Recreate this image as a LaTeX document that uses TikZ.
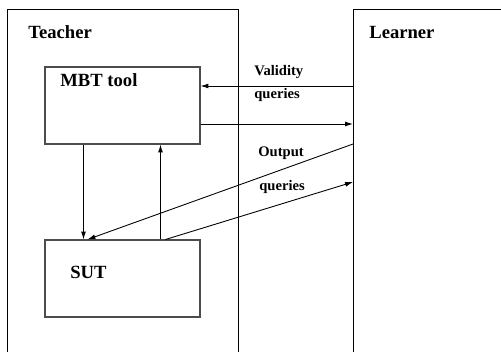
\documentclass[tikz,border=0pt]{standalone}
\usepackage{fontspec}
\setmainfont{Liberation Serif}
\usetikzlibrary{
    arrows.meta,   % For arrow tips
    positioning,   % For relative placement
    calc           % For offsets from anchors
}

\begin{document}
\begin{tikzpicture}[
    x=0.02cm, y=-0.02cm,
    frame/.style={draw=black, line width=0.5pt, anchor=north west, inner sep=0pt},
    unit/.style={draw=black!70, line width=0.6pt, minimum width=3.1cm, minimum height=1.54cm, inner sep=0pt},
    title/.style={font=\fontsize{10.6}{12}\selectfont\bfseries, inner sep=0pt, anchor=west},
    msg/.style={font=\fontsize{8.3}{10}\selectfont\bfseries, inner sep=0pt, anchor=west},
    arrow/.style={-{Latex[length=4.5pt,width=2.8pt]}, line width=0.5pt}
]
    \useasboundingbox (0,0) rectangle (501,352);
    \clip (0,0) rectangle (501,352);

    % --- Outer frames ---
    \node[frame, minimum width=4.62cm, minimum height=8cm] (teacher) at (7,9) {};
    \node[frame, minimum width=4cm, minimum height=8cm] (learner) at (353,9) {};
    \node[title] (teacherlbl) at (28,32) {Teacher};
    \node[title] (learnerlbl) at (369,32) {Learner};

    % --- Inner boxes ---
    \node[unit] (mbt) at (122.5,105.5) {};
    \node[unit] (sut) at (122.5,278.5) {};
    \node[title] (mbtlbl) at (60,80) {MBT tool};
    \node[title] (sutlbl) at (70,272) {SUT};

    % --- Message labels ---
    \node[msg] (validity) at (254,72) {Validity};
    \node[msg] (vqueries) at (254,95) {queries};
    \node[msg] (output) at (258,153) {Output};
    \node[msg] (oqueries) at (259,187) {queries};

    % --- Connectors ---
    \coordinate (vq) at (0,86);
    \coordinate (eq) at (0,124);
    \coordinate (oq) at (0,144);
    \coordinate (ans) at (0,182);
    \draw[arrow] (learner.west |- vq) -- (mbt.east |- vq);
    \draw[arrow] (mbt.east |- eq) -- (learner.west |- eq);
    \draw[arrow] ($(mbt.south west)+(39,0)$) -- ($(sut.north west)+(39,0)$);
    \draw[arrow] ($(sut.north west)+(116,0)$) -- ($(mbt.south west)+(116,0)$);
    \draw[arrow] (learner.west |- oq) -- ($(sut.north west)+(43,0)$);
    \draw[arrow] ($(sut.north west)+(121,0)$) -- (learner.west |- ans);

\end{tikzpicture}
\end{document}
